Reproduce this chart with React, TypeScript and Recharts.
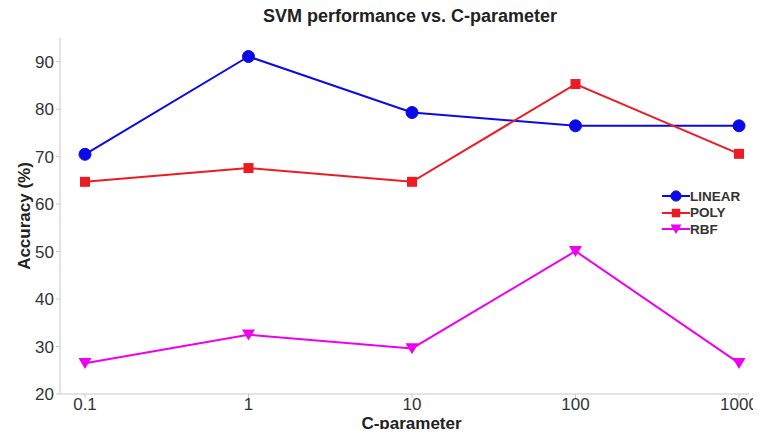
import { Line, LineChart, XAxis, YAxis } from 'recharts'

const C_VALUES = ['0.1', '1', '10', '100', '1000']
const LINEAR = [70.5, 91.1, 79.3, 76.5, 76.5]
const POLY = [64.7, 67.6, 64.7, 85.3, 70.6]
const RBF = [26.5, 32.5, 29.6, 50.1, 26.5]
const Y_TICKS = [20, 30, 40, 50, 60, 70, 80, 90]

const data = C_VALUES.map((c, i) => ({
  c,
  linear: LINEAR[i],
  poly: POLY[i],
  rbf: RBF[i],
}))

const SERIES = [
  { key: 'linear', label: 'LINEAR', color: '#0a0ae6', shape: 'circle' },
  { key: 'poly', label: 'POLY', color: '#ec1c24', shape: 'square' },
  { key: 'rbf', label: 'RBF', color: '#ee00ee', shape: 'triangle' },
]

const FONT = 'Liberation Sans, Arial, sans-serif'

function Marker({ cx, cy, shape, color, size = 1 }: any) {
  if (cx == null || cy == null) return null
  if (shape === 'circle')
    return <circle cx={cx} cy={cy} r={6 * size} fill={color} stroke={color} />
  if (shape === 'square') {
    const s = 5 * size
    return <rect x={cx - s} y={cy - s} width={2 * s} height={2 * s} fill={color} />
  }
  const s = 6.5 * size
  return (
    <polygon
      points={`${cx - s},${cy - s * 0.8} ${cx + s},${cy - s * 0.8} ${cx},${cy + s * 0.9}`}
      fill={color}
    />
  )
}

function LegendBox() {
  return (
    <div
      style={{
        position: 'absolute',
        left: 662,
        top: 188,
        fontFamily: FONT,
        fontSize: 13.5,
        fontWeight: 700,
        color: '#333',
      }}
    >
      {SERIES.map((s) => (
        <div key={s.key} style={{ display: 'flex', alignItems: 'center', height: 16.5 }}>
          <svg width={28} height={14}>
            <line x1={0} y1={7} x2={28} y2={7} stroke={s.color} strokeWidth={2} />
            <Marker cx={14} cy={7} shape={s.shape} color={s.color} size={0.85} />
          </svg>
          <span>{s.label}</span>
        </div>
      ))}
    </div>
  )
}

export default function App() {
  return (
    <div style={{ position: 'relative', width: 761, height: 437, margin: -8, background: '#fff' }}>
      <div
        style={{
          position: 'absolute',
          top: 6,
          left: 0,
          width: 820,
          textAlign: 'center',
          fontFamily: FONT,
          fontWeight: 700,
          fontSize: 18,
          color: '#222',
        }}
      >
        SVM performance vs. C-parameter
      </div>
      <LineChart
        width={761}
        height={437}
        data={data}
        margin={{ top: 38, right: 12, bottom: 0, left: 20 }}
        style={{ fontFamily: FONT }}
      >
        <XAxis
          dataKey="c"
          height={43}
          padding={{ left: 25, right: 10 }}
          stroke="#c8c8c8"
          tick={{ fontSize: 17, fill: '#333', dy: -2 }}
          tickSize={4}
          tickLine={{ stroke: '#c8c8c8' }}
          label={{
            value: 'C-parameter',
            position: 'insideBottom',
            offset: 8,
            dx: 7,
            style: { fontSize: 17, fontWeight: 700, fill: '#222' },
          }}
        />
        <YAxis
          width={40}
          domain={[20, 95]}
          ticks={Y_TICKS}
          allowDataOverflow
          stroke="#c8c8c8"
          tick={{ fontSize: 17, fill: '#333' }}
          tickSize={4}
          tickLine={{ stroke: '#c8c8c8' }}
          label={{
            value: 'Accuracy (%)',
            angle: -90,
            position: 'center',
            dx: -16,
            style: { fontSize: 17, fontWeight: 700, fill: '#222', textAnchor: 'middle' },
          }}
        />
        {SERIES.map((s) => (
          <Line
            key={s.key}
            type="linear"
            dataKey={s.key}
            name={s.label}
            stroke={s.color}
            strokeWidth={2}
            isAnimationActive={false}
            dot={(p: any) => (
              <Marker key={`${s.key}-${p.index}`} cx={p.cx} cy={p.cy} shape={s.shape} color={s.color} />
            )}
            activeDot={false}
          />
        ))}
      </LineChart>
      <LegendBox />
    </div>
  )
}
